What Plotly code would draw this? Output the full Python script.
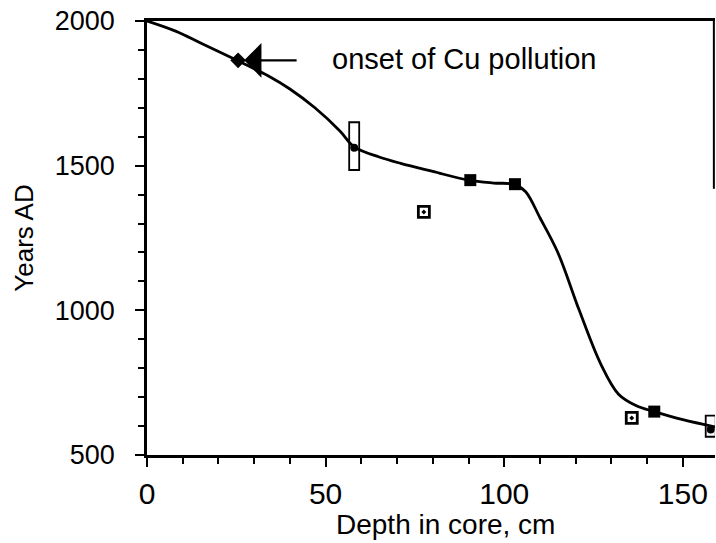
import plotly.graph_objects as go

# Age-depth curve (smooth model)
curve_depth = [0, 8, 15, 25, 34, 40, 47, 54, 58, 65, 71, 80, 90, 97, 103, 106, 110, 115, 121, 127, 132, 137, 142, 150, 159]
curve_year = [2000, 1965, 1924, 1865, 1810, 1765, 1700, 1620, 1565, 1530, 1508, 1480, 1450, 1440, 1435, 1410, 1320, 1200, 1000, 815, 710, 670, 650, 622, 597]

# Dated samples
diamond_depth = [25.5]
diamond_year = [1864]

circle_depth = [58, 157.8]
circle_year = [1562, 588]

box_depth = [58, 157.8]
box_low = [1485, 563]
box_high = [1650, 636]

open_sq_depth = [77.5, 135.7]
open_sq_year = [1340, 628]

filled_sq_depth = [90.5, 103, 142]
filled_sq_year = [1450, 1436, 650]

x_ticks = [0, 50, 100, 150]
y_ticks = [500, 1000, 1500, 2000]

FONT = "Liberation Sans, Arial, Helvetica, sans-serif"

fig = go.Figure()

fig.add_trace(go.Bar(
    x=box_depth, base=box_low, y=[h - l for h, l in zip(box_high, box_low)],
    width=2.8, marker=dict(color="rgba(255,255,255,0)", line=dict(color="black", width=1.8)),
    showlegend=False, hoverinfo="skip"))

fig.add_trace(go.Scatter(
    x=curve_depth, y=curve_year, mode="lines", line=dict(color="black", width=2.8, shape="spline", smoothing=1.0),
    showlegend=False))

fig.add_trace(go.Scatter(
    x=diamond_depth, y=diamond_year, mode="markers",
    marker=dict(symbol="diamond", size=12, color="black"), showlegend=False))

fig.add_trace(go.Scatter(
    x=circle_depth, y=circle_year, mode="markers",
    marker=dict(symbol="circle", size=8, color="black"), showlegend=False))

fig.add_trace(go.Scatter(
    x=open_sq_depth, y=open_sq_year, mode="markers",
    marker=dict(symbol="square-open-dot", size=11, color="black", line=dict(width=2.8)), showlegend=False))

fig.add_trace(go.Scatter(
    x=filled_sq_depth, y=filled_sq_year, mode="markers",
    marker=dict(symbol="square", size=12, color="black"), showlegend=False))

# arrow and label
fig.add_annotation(x=27.2, y=1864, ax=42.3, ay=1864, xref="x", yref="y", axref="x", ayref="y",
                   text="", showarrow=True, arrowhead=1, arrowsize=2.4, arrowwidth=2.4, arrowcolor="black")
fig.add_annotation(x=51.2, y=1867, xref="x", yref="y", text="onset of Cu pollution", showarrow=False,
                   xanchor="left", yanchor="middle", font=dict(family=FONT, size=29, color="black"))

# x-axis title (placed slightly right of centre, as in the original)
fig.add_annotation(x=0.525, y=-0.161, xref="paper", yref="paper", text="Depth in core, cm", showarrow=False,
                   xanchor="center", yanchor="middle", font=dict(family=FONT, size=28, color="black"))

# partial right frame
fig.add_shape(type="line", xref="paper", yref="y", x0=0.998, x1=0.998, y0=2000, y1=1420,
              line=dict(color="black", width=2))

fig.update_layout(
    width=716, height=543,
    margin=dict(l=147, r=1, t=21, b=88, autoexpand=False),
    paper_bgcolor="white", plot_bgcolor="white",
    barmode="overlay",
    font=dict(family=FONT, color="black"),
    xaxis=dict(range=[0, 159], tickvals=x_ticks, ticks="outside", ticklen=9, tickwidth=2,
               tickcolor="black", showline=True, linecolor="black", linewidth=2.5, mirror=True,
               showgrid=False, zeroline=False, tickfont=dict(size=30), ticklabelstandoff=1,
               automargin=False, ticklabeloverflow="allow",
               minor=dict(dtick=10, ticks="outside", ticklen=6, tickwidth=1.5, tickcolor="black", showgrid=False)),
    yaxis=dict(range=[500, 2000], tickvals=y_ticks, ticks="outside", ticklen=9, tickwidth=2,
               tickcolor="black", showline=True, linecolor="black", linewidth=2.5,
               showgrid=False, zeroline=False, tickfont=dict(size=27), ticklabelstandoff=15,
               automargin=False, ticklabeloverflow="allow",
               minor=dict(dtick=100, ticks="outside", ticklen=6, tickwidth=1.5, tickcolor="black", showgrid=False),
               title=dict(text="Years AD", font=dict(size=26), standoff=14)),
)

fig.write_html("out.html", config={"displayModeBar": False},
               post_script="document.body.style.margin='0';")
